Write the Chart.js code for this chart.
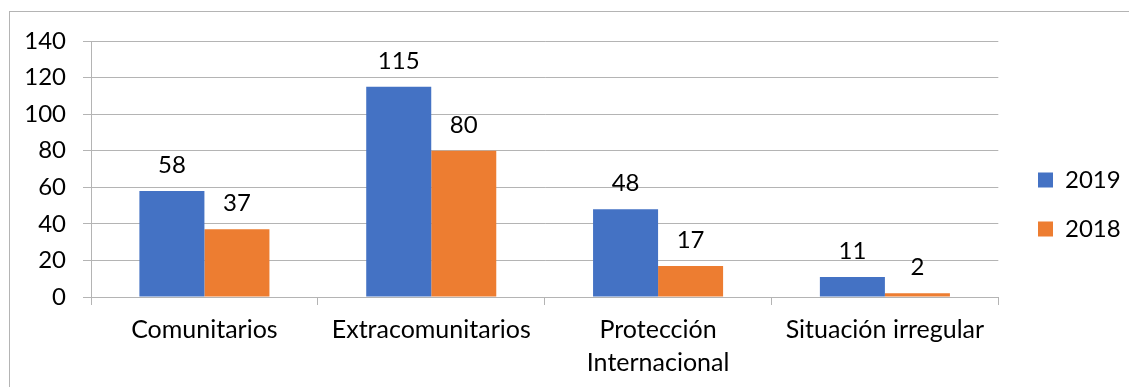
<!DOCTYPE html>
<html>
<head>
<meta charset="utf-8">
<script src="https://cdn.jsdelivr.net/npm/chart.js@4/dist/chart.umd.min.js"></script>
<style>
  html, body { margin: 0; padding: 0; background: #fff; overflow: hidden; }
  #wrap { position: relative; width: 1129px; height: 387px; }
  #frame { position: absolute; left: 9px; top: 11px; width: 1200px; height: 500px;
           border-left: 1px solid #b4b4b4; border-top: 1px solid #b4b4b4; pointer-events: none; }
  canvas { position: absolute; left: 0; top: 0; }
</style>
</head>
<body>
<div id="wrap">
  <div id="frame"></div>
  <canvas id="chart" width="1129" height="387"></canvas>
</div>
<script>
// Categories and series
const categories = ['Comunitarios', 'Extracomunitarios', ['Protección', 'Internacional'], 'Situación irregular'];
const series2019 = [58, 115, 48, 11];
const series2018 = [37, 80, 17, 2];
const yTicks = [0, 20, 40, 60, 80, 100, 120, 140];

const FONT = 'Lato';
const GRID = '#b4b4b4';

Chart.defaults.font.family = FONT;
Chart.defaults.font.size = 24;
Chart.defaults.color = '#000';

// Value labels above each bar
const barValues = {
  id: 'barValues',
  afterDatasetsDraw(chart) {
    const ctx = chart.ctx;
    ctx.save();
    ctx.font = '24px ' + FONT;
    ctx.fillStyle = '#000';
    ctx.textAlign = 'center';
    ctx.textBaseline = 'alphabetic';
    chart.data.datasets.forEach((ds, di) => {
      chart.getDatasetMeta(di).data.forEach((bar, i) => {
        ctx.fillText(String(ds.data[i]), bar.x, bar.y - 18);
      });
    });
    ctx.restore();
  }
};

// Places the legend block to the right of the plot
const legendPlacement = {
  id: 'legendPlacement',
  afterLayout(chart) {
    const lg = chart.legend;
    if (!lg) return;
    const pad = lg.options.labels.padding;
    const w = lg.width;
    lg.left = 1038 - pad;
    lg.right = lg.left + w;
    lg.top = 180 - 12 - pad;
  }
};

new Chart(document.getElementById('chart'), {
  type: 'bar',
  data: {
    labels: categories,
    datasets: [
      { label: '2019', data: series2019, backgroundColor: '#4472C4', borderWidth: 0 },
      { label: '2018', data: series2018, backgroundColor: '#ED7D31', borderWidth: 0 }
    ]
  },
  options: {
    responsive: false,
    animation: false,
    devicePixelRatio: 1,
    layout: { padding: { top: 41, left: 0, right: 13, bottom: 0 } },
    datasets: { bar: { categoryPercentage: 0.5733, barPercentage: 1 } },
    plugins: {
      legend: {
        position: 'right',
        align: 'start',
        labels: { boxWidth: 15, boxHeight: 15, padding: 25, font: { size: 24 }, color: '#000' }
      },
      tooltip: { enabled: false }
    },
    scales: {
      x: {
        grid: { drawOnChartArea: false, drawTicks: true, tickLength: 8, color: GRID, offset: true },
        border: { display: true, color: GRID },
        ticks: { padding: 9, font: { size: 25, lineHeight: 1.3 }, color: '#000', maxRotation: 0, autoSkip: false },
        afterFit(scale) { scale.height = 90; }
      },
      y: {
        min: 0,
        max: 140,
        grid: { color: GRID, tickLength: 8 },
        border: { display: true, color: GRID },
        ticks: { padding: 17, font: { size: 24 }, color: '#000' },
        afterBuildTicks(scale) { scale.ticks = yTicks.map(v => ({ value: v })); },
        afterFit(scale) { scale.width = 91; }
      }
    }
  },
  plugins: [barValues, legendPlacement]
});
</script>
</body>
</html>
